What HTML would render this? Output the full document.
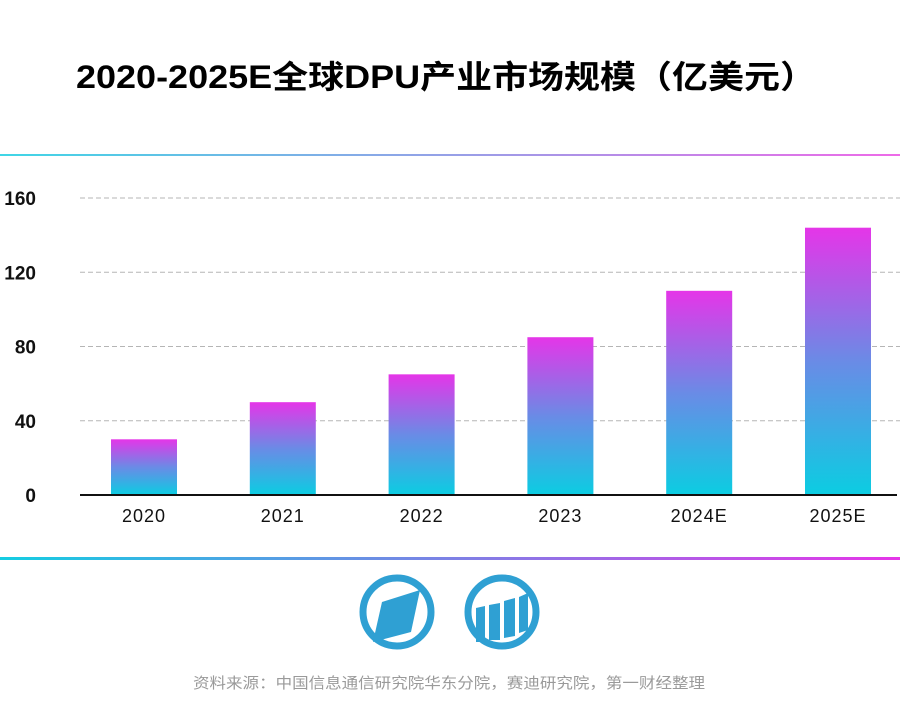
<!DOCTYPE html>
<html><head><meta charset="utf-8"><style>
body{margin:0;width:900px;height:710px;background:#fff;overflow:hidden;font-family:"Liberation Sans","Noto Sans CJK SC",sans-serif;}
</style></head><body>
<svg width="900" height="710" xmlns="http://www.w3.org/2000/svg">
<defs>
<linearGradient id="bar" x1="0" y1="1" x2="0" y2="0"><stop offset="0" stop-color="#0bcde2"/><stop offset="0.5" stop-color="#6a8be6"/><stop offset="1" stop-color="#e535e8"/></linearGradient>
<linearGradient id="line1" x1="0" x2="1"><stop offset="0" stop-color="#3fd6e6"/><stop offset="1" stop-color="#ee6ae8"/></linearGradient>
<linearGradient id="line2" x1="0" x2="1"><stop offset="0" stop-color="#14cde2"/><stop offset="1" stop-color="#e535e8"/></linearGradient>
</defs>
<text x="76" y="88" font-size="32" font-weight="bold" fill="#000" textLength="740" lengthAdjust="spacingAndGlyphs" font-family="Liberation Sans, Noto Sans CJK SC, sans-serif">2020-2025E全球DPU产业市场规模（亿美元）</text>
<rect x="0" y="154" width="900" height="2" fill="url(#line1)"/>
<rect x="0" y="557" width="900" height="3" fill="url(#line2)"/>
<g id="grid"></g><g id="bars"></g><g id="labels"></g>
<g>
<circle cx="397" cy="612" r="34" fill="none" stroke="#2fa0d3" stroke-width="7"/>
<polygon points="382,602 420,590 411,632 373,642" fill="#2fa0d3"/>
</g>
<g>
<circle cx="502" cy="612" r="34" fill="none" stroke="#2fa0d3" stroke-width="7"/>
<polygon points="476,608 485,606 485,642 476,642" fill="#2fa0d3"/>
<polygon points="489,605 500,603 500,640 489,640" fill="#2fa0d3"/>
<polygon points="504,601 515,598 515,636 504,638" fill="#2fa0d3"/>
<polygon points="519,597 528,593 528,630 519,633" fill="#2fa0d3"/>
</g>
<text x="193" y="688" font-size="15" fill="#9a9a9a" textLength="512" lengthAdjust="spacingAndGlyphs" font-family="Liberation Sans, Noto Sans CJK SC, sans-serif">资料来源：中国信息通信研究院华东分院，赛迪研究院，第一财经整理</text>
</svg>
<script>
const categories=["2020","2021","2022","2023","2024E","2025E"];
const values=[30,50,65,85,110,144];
const ticks=[0,40,80,120,160];
const NS="http://www.w3.org/2000/svg";
const y=v=>495-v*(297/160);
const x=i=>75+i*138.8;
const g=document.getElementById('grid'),b=document.getElementById('bars'),l=document.getElementById('labels');
function mk(tag,attrs,parent){const e=document.createElementNS(NS,tag);for(const k in attrs)e.setAttribute(k,attrs[k]);parent.appendChild(e);return e;}
ticks.forEach(t=>{
 if(t>0){const ln=mk('line',{x1:80,x2:900,y1:y(t),y2:y(t),stroke:'#b5b5b5','stroke-width':1,'stroke-dasharray':'5,3'},g);
 
 }
 const tx=mk('text',{x:36,y:y(t)+7,'font-size':19,'font-weight':'bold','text-anchor':'end',fill:'#111'},l);
 tx.textContent=t;
 
 
});
values.forEach((v,i)=>{
 const r=mk('rect',{x:x(i)+36,y:y(v),width:66,height:495-y(v),fill:'url(#bar)'},b);
 
 
 const tx=mk('text',{x:x(i)+69,y:522,'font-size':18,'text-anchor':'middle',fill:'#111','letter-spacing':'1'},l);
 tx.textContent=categories[i];
 
 
});
const ax=mk('line',{x1:80,x2:897,y1:495,y2:495,stroke:'#111','stroke-width':2},l);


</script>
</body></html>
